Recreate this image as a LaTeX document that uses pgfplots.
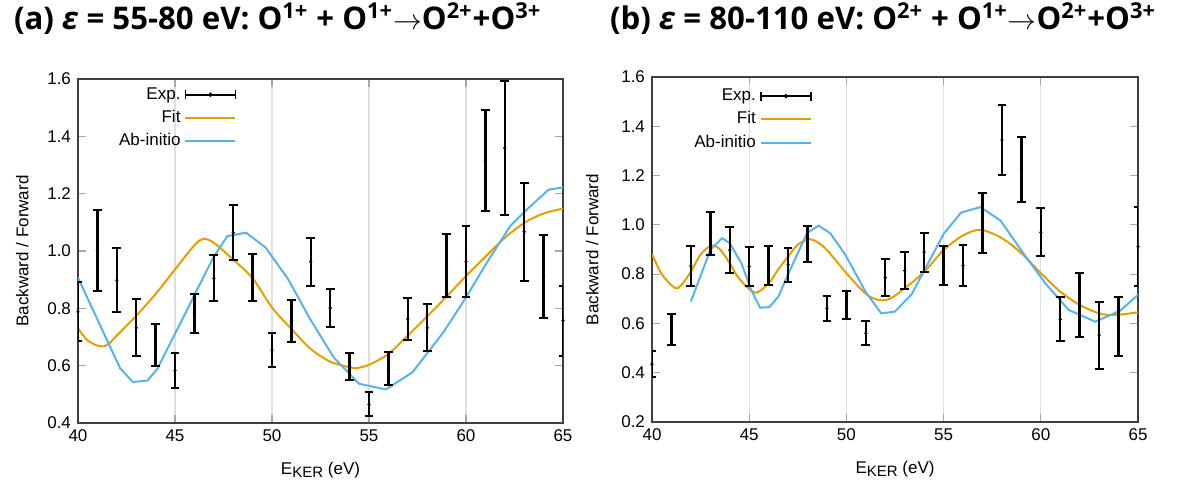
\documentclass[border=0pt]{standalone}
\usepackage{fontspec}
\usepackage{pgfplots}
\pgfplotsset{compat=1.18}
\setmainfont{Liberation Sans}
\newfontfamily\titlefont{Open Sans}
\definecolor{fitc}{RGB}{230,159,0}
\definecolor{abc}{RGB}{86,180,233}

\pgfplotsset{
  kerpanel/.style={
    scale only axis,
    xmin=40, xmax=65,
    xtick={40,45,50,55,60,65},
    xmajorgrids, grid style={gray!25, line width=0.6pt},
    tick align=inside,
    tick style={gray!70, line width=0.6pt},
    major tick length=4pt,
    axis line style={black!75, line width=0.7pt},
    tick label style={font=\fontsize{8.5}{10}\selectfont},
    label style={font=\fontsize{8.5}{10}\selectfont},
    /pgf/number format/assume math mode=true,
    yticklabel style={/pgf/number format/.cd, fixed, fixed zerofill, precision=1},
    xlabel={E\raisebox{-0.35ex}{\fontsize{7.5}{8}\selectfont KER} (eV)},
    ylabel={Backward / Forward},
    xlabel style={at={(axis description cs:0.5,-0.137)}, anchor=center},
    legend style={draw=none, fill=none, legend cell align=right, legend plot pos=right,
      font=\fontsize{8.5}{10}\selectfont, row sep=0pt, anchor=north east},
  },
  expbars/.style={black, only marks, mark=*, mark size=0.6pt,
    error bars/.cd, y dir=both, y explicit,
    error bar style={line width=1.2pt},
    error mark options={rotate=90, mark size=2.2pt, line width=1pt}},
}

\newcommand{\explegend}{\addlegendimage{legend image code/.code={
  \draw[black,line width=0.9pt] (0pt,0pt)--(25pt,0pt);
  \draw[black,line width=0.9pt] (0pt,-2.3pt)--(0pt,2.3pt) (25pt,-2.3pt)--(25pt,2.3pt);
  \fill[black] (12.5pt,0pt) circle (0.9pt);}}}
\newcommand{\linelegend}[1]{\addlegendimage{legend image code/.code={
  \draw[#1,line width=1pt] (0pt,0pt)--(25pt,0pt);}}}

\begin{document}
\begin{tikzpicture}
\useasboundingbox (0,0) rectangle (596pt,247pt);

\node[anchor=base west, font=\titlefont\bfseries\fontsize{15.6}{17}\selectfont] at (3.5pt,232.5pt)
  {(a) \textit{ε} = 55-80 eV: O\textsuperscript{1+} + O\textsuperscript{1+}$\rightarrow$O\textsuperscript{2+}+O\textsuperscript{3+}};
\node[anchor=base west, font=\titlefont\bfseries\fontsize{15.6}{17}\selectfont] at (301.5pt,232.5pt)
  {(b) \textit{ε} = 80-110 eV: O\textsuperscript{2+} + O\textsuperscript{1+}$\rightarrow$O\textsuperscript{2+}+O\textsuperscript{3+}};

% ---------- panel (a)
\begin{axis}[kerpanel,
  at={(39pt,35.5pt)}, anchor=south west,
  width=242.5pt, height=172pt,
  ymin=0.4, ymax=1.6, ytick={0.4,0.6,...,1.6},
  ylabel style={at={(axis description cs:-0.115,0.5)}, anchor=center},
  legend style={at={(axis description cs:0.34,1.0)}},
]
\explegend \addlegendentry{Exp.}
\linelegend{fitc} \addlegendentry{Fit}
\linelegend{abc} \addlegendentry{Ab-initio}

\addplot[fitc, line width=1pt, smooth, forget plot] coordinates {
(40,0.730) (40.5,0.688) (41.1,0.668) (41.5,0.672) (42,0.705) (43,0.774) (44,0.850)
(45,0.936) (46,1.020) (46.45,1.042) (47,1.029) (48,0.970) (49,0.905) (50,0.803)
(51,0.728) (52,0.658) (53,0.614) (54,0.594) (54.3,0.591) (55,0.603) (56,0.641)
(57,0.705) (58,0.772) (59,0.841) (60,0.913) (61,0.980) (62,1.046) (63,1.098)
(64,1.131) (65,1.148)};

\addplot[abc, line width=1pt, forget plot] coordinates {
(40.0,0.907) (42.17,0.591) (42.83,0.543) (43.58,0.548) (44.1,0.590) (46.97,0.977)
(47.7,1.052) (48.66,1.064) (49.67,1.012) (50.83,0.902) (51.96,0.763) (53.18,0.629)
(54.48,0.537) (55.87,0.517) (57.24,0.577) (58.83,0.716) (60.0,0.838) (61.07,0.959)
(62.28,1.087) (63.14,1.145) (64.26,1.214) (65,1.222)};

\addplot[forget plot, expbars] table[x=x, y=y, y error=e] {
x y e
40 0.788 0.103
41 1.002 0.140
42 0.898 0.111
43 0.732 0.099
44 0.672 0.073
45 0.583 0.060
46 0.782 0.069
47 0.905 0.081
48 1.064 0.095
49 0.907 0.082
50 0.655 0.058
51 0.757 0.073
52 0.962 0.084
53 0.801 0.066
54 0.597 0.047
55 0.465 0.042
56 0.589 0.057
57 0.763 0.074
58 0.732 0.082
59 0.948 0.110
60 0.963 0.125
61 1.316 0.177
62 1.359 0.235
63 1.067 0.171
64 0.911 0.145
65 0.757 0.122
};
\end{axis}

% ---------- panel (b)
\begin{axis}[kerpanel,
  at={(326pt,36pt)}, anchor=south west,
  width=243pt, height=172.5pt,
  ymin=0.2, ymax=1.6, ytick={0.2,0.4,...,1.6},
  ylabel style={at={(axis description cs:-0.123,0.5)}, anchor=center},
  legend style={at={(axis description cs:0.342,0.99)}},
]
\explegend \addlegendentry{Exp.}
\linelegend{fitc} \addlegendentry{Fit}
\linelegend{abc} \addlegendentry{Ab-initio}

\addplot[fitc, line width=1pt, smooth, forget plot] coordinates {
(40,0.881) (40.5,0.800) (41.17,0.744) (41.5,0.755) (42,0.810) (42.5,0.880) (43.06,0.916)
(43.5,0.900) (44,0.844) (44.5,0.780) (45.3,0.725) (46,0.763) (46.5,0.820) (47,0.871)
(47.5,0.920) (48.09,0.942) (48.5,0.930) (49,0.898) (50,0.804) (51,0.720) (51.67,0.695)
(52.26,0.701) (53,0.743) (54,0.809) (55,0.898) (56,0.957) (56.9,0.980) (58,0.946)
(59,0.885) (60,0.804) (61,0.729) (62,0.675) (63,0.641) (63.75,0.634) (65,0.645)};

\addplot[abc, line width=1pt, forget plot] coordinates {
(42,0.689) (43,0.898) (43.6,0.946) (44,0.926) (44.6,0.844) (45.1,0.736) (45.56,0.664)
(46.04,0.666) (46.5,0.709) (47.0,0.800) (47.97,0.966) (48.57,0.997) (49.17,0.966)
(49.95,0.878) (50.98,0.729) (51.79,0.641) (52.5,0.648) (53.37,0.720) (53.97,0.810)
(55,0.963) (55.9,1.050) (56.89,1.072) (57.92,1.018) (59.1,0.885) (60.23,0.763)
(61.43,0.655) (62.8,0.607) (64.09,0.652) (65,0.716)};

\addplot[forget plot, expbars] table[x=x, y=y, y error=e] {
x y e
40 0.435 0.052
41 0.576 0.062
42 0.833 0.081
43 0.966 0.088
44 0.898 0.093
45 0.831 0.080
46 0.835 0.078
47 0.838 0.068
48 0.923 0.073
49 0.660 0.051
50 0.674 0.056
51 0.560 0.048
52 0.786 0.075
53 0.814 0.075
54 0.889 0.080
55 0.835 0.081
56 0.835 0.085
57 1.007 0.122
58 1.345 0.142
59 1.225 0.133
60 0.970 0.098
61 0.617 0.090
62 0.674 0.129
63 0.552 0.137
64 0.587 0.121
65 0.912 0.159
};
\end{axis}
\end{tikzpicture}
\end{document}
